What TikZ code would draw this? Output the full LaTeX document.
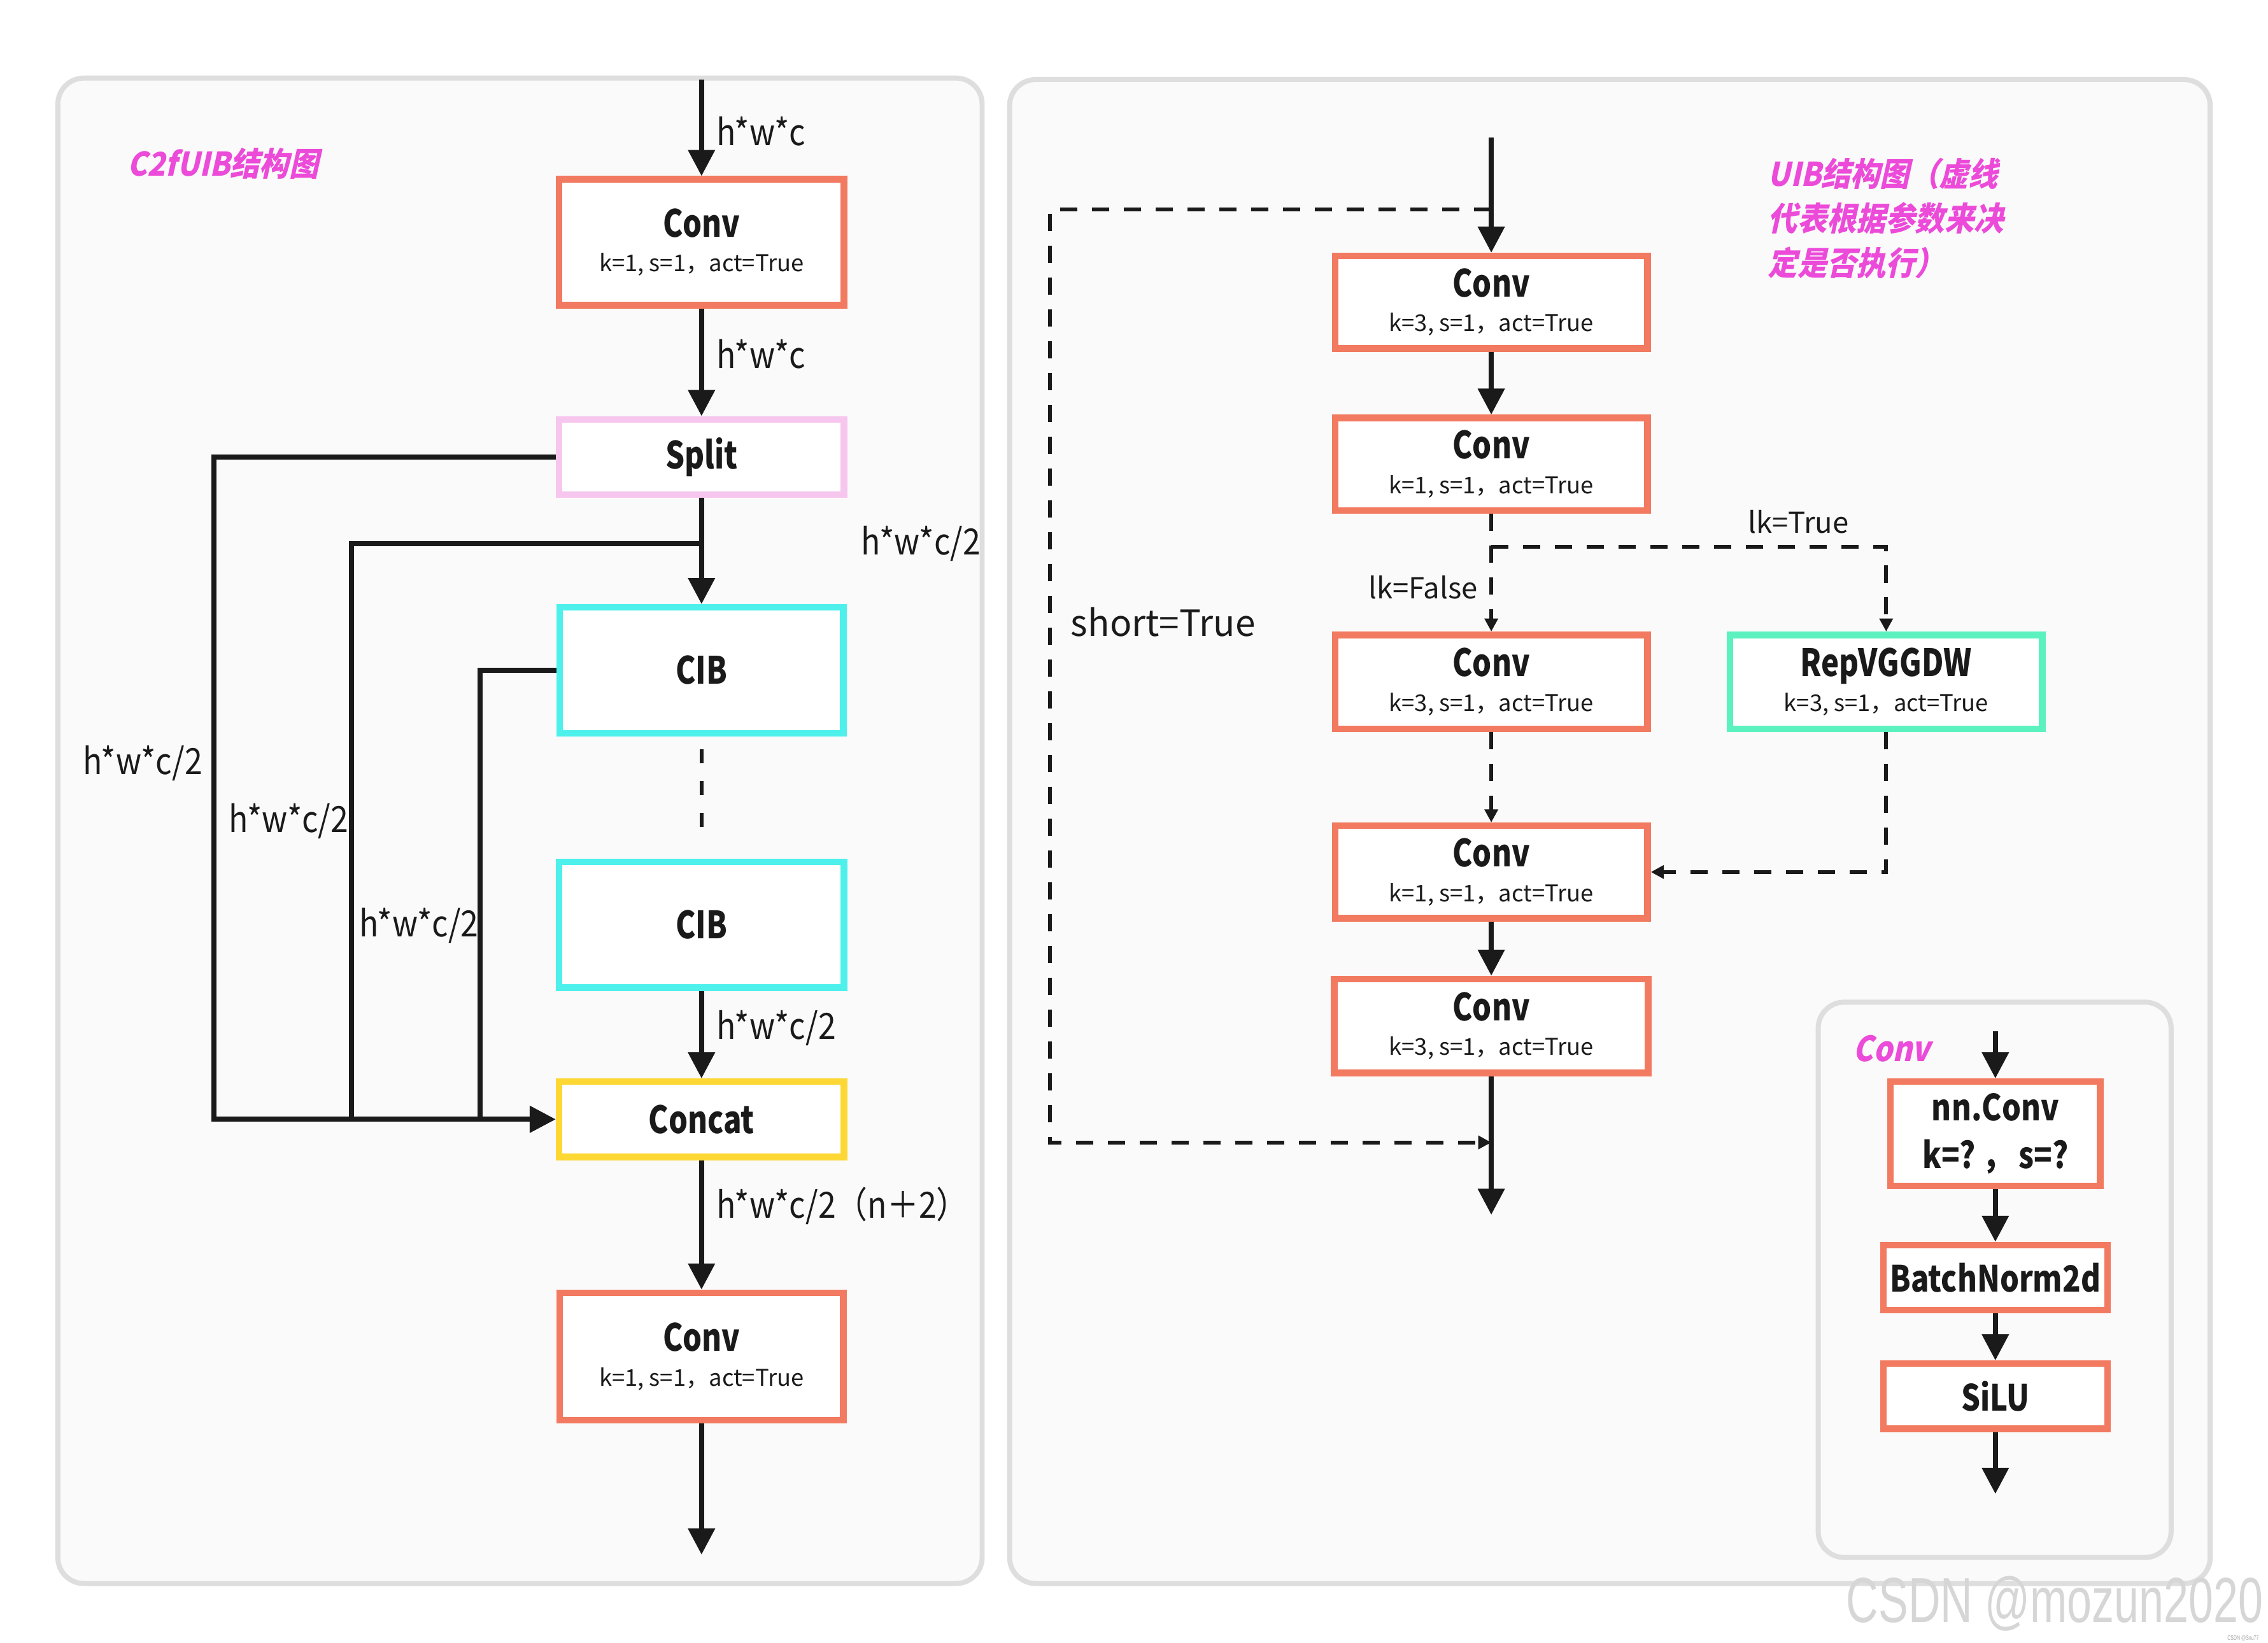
\documentclass[tikz,border=0pt]{standalone}
\usepackage{fontspec}
\setmainfont{Noto Sans CJK SC}
\newfontfamily\wmfont{Liberation Sans}[FakeStretch=0.7]
\newfontfamily\medfont{Noto Sans CJK SC}[FakeStretch=0.8]
\newfontfamily\medfontb{Noto Sans CJK SC}[FakeStretch=0.83]
\newfontfamily\magfont{Noto Sans CJK SC}[FakeSlant=0.22, FakeStretch=0.9]
\newfontfamily\magconv{Noto Sans CJK SC}[FakeSlant=0.22, FakeStretch=0.86]
\newfontfamily\lblfont{Noto Sans CJK SC}[FakeStretch=0.88]
\usetikzlibrary{arrows.meta}
\definecolor{orng}{HTML}{F27A60}
\definecolor{pnk}{HTML}{F7C6EE}
\definecolor{cyn}{HTML}{4EF0EC}
\definecolor{yel}{HTML}{FDD835}
\definecolor{grn}{HTML}{5CF2C0}
\definecolor{mag}{HTML}{EC4AD9}
\definecolor{linec}{HTML}{1A1A1A}
\definecolor{panelfill}{HTML}{FAFAFA}
\definecolor{paneldraw}{HTML}{DEDEDE}
\newcommand\ttl[1]{{\fontsize{13}{15}\selectfont\medfont\bfseries #1}}
\newcommand\prm[1]{{\fontsize{8}{10}\selectfont #1}}
\tikzset{
  panel/.style={draw=paneldraw, fill=panelfill, line width=1.75pt, rounded corners=9pt},
  box/.style={draw=#1, line width=2.3pt, fill=white, align=center, inner sep=0pt, text=linec},
  sz/.style n args={2}{minimum width=#1*0.5pt, minimum height=#2*0.5pt},
  line/.style={draw=linec, line width=1.7pt},
  arr/.style={line, -{Triangle[length=9pt,width=9pt]}},
  dline/.style={draw=linec, line width=1.3pt, dash pattern=on 6pt off 5pt},
  darr/.style={dline, -{Triangle[length=4.5pt,width=4.5pt]}},
  lbl/.style={anchor=west, inner sep=0pt, text=linec, font=\fontsize{12.5}{14}\selectfont\lblfont},
  plain/.style={anchor=west, inner sep=0pt, text=linec, font=\fontsize{12.5}{14}\selectfont},
  mtxt/.style={anchor=west, inner sep=0pt, text=mag, align=left, font=\fontsize{11.3}{15.5}\selectfont\magfont\bfseries},
  dtxt/.style={font=\fontsize{12.5}{16.5}\selectfont\medfontb\bfseries},
}
\begin{document}
\begin{tikzpicture}[x=0.5pt,y=-0.5pt]
\useasboundingbox (0,0) rectangle (1568,1136);
\fill[white] (0,0) rectangle (1568,1136);
% panels
\path[panel] (40,54) rectangle (679,1095);
\path[panel] (698,55) rectangle (1528,1095);
\path[panel] (1257,693) rectangle (1501,1077);

% ---------- left: C2fUIB ----------
\node[mtxt] (t1) at (88,113) {C2fUIB结构图};
\coordinate (in1) at (485,55);
\node[box=orng, sz={197}{87}] (c1) at (485,167.5) {\ttl{Conv}\\[0pt]\prm{k=1, s=1，act=True}};
\node[box=pnk, sz={197}{52}] (sp) at (485,316) {\ttl{Split}};
\node[box=cyn, sz={196}{87}] (cib1) at (485,463.5) {\ttl{CIB}};
\node[box=cyn, sz={197}{87}] (cib2) at (485,639.5) {\ttl{CIB}};
\node[box=yel, sz={197}{52}] (cat) at (485,774) {\ttl{Concat}};
\node[box=orng, sz={196}{88}] (c2) at (485,938) {\ttl{Conv}\\[0pt]\prm{k=1, s=1，act=True}};
\coordinate (out1) at (485,1075);
\coordinate (b1) at (485,376);
\coordinate (j1) at (332,774);

\draw[arr] (in1) -- (c1.north);
\draw[arr] (c1.south) -- (sp.north);
\draw[arr] (sp.south) -- (cib1.north);
\draw[dline, dash pattern=on 5pt off 6pt] (485,518) -- (485,582);
\draw[arr] (cib2.south) -- (cat.north);
\draw[arr] (cat.south) -- (c2.north);
\draw[arr] (c2.south) -- (out1);
\draw[arr] (sp.west) -- (148,316) -- (148,774) -- (cat.west);
\draw[line] (b1) -- (243,376) -- (243,774) -- (j1);
\draw[line] (cib1.west) -- (332,463.5) -- (j1);

\node[lbl] (l1) at (495,91) {h*w*c};
\node[lbl] (l2) at (495,245) {h*w*c};
\node[lbl] (l3) at (595,376) {h*w*c/2};
\node[lbl] (l4) at (57,528) {h*w*c/2};
\node[lbl] (l5) at (158,568) {h*w*c/2};
\node[lbl] (l6) at (248,640) {h*w*c/2};
\node[lbl] (l7) at (495,711) {h*w*c/2};
\node[lbl] (l8) at (495,834) {h*w*c/2（n＋2）};

% ---------- right: UIB ----------
\node[mtxt] (t2) at (1222,151) {UIB结构图（虚线\\代表根据参数来决\\定是否执行）};
\coordinate (in2) at (1031,95);
\node[box=orng, sz={216}{64}] (ca) at (1031,209) {\ttl{Conv}\\[0pt]\prm{k=3, s=1，act=True}};
\node[box=orng, sz={216}{64}] (cb) at (1031,321) {\ttl{Conv}\\[0pt]\prm{k=1, s=1，act=True}};
\node[box=orng, sz={216}{65}] (cc) at (1031,471.5) {\ttl{Conv}\\[0pt]\prm{k=3, s=1，act=True}};
\node[box=grn, sz={216}{65}] (rep) at (1304,471.5) {\ttl{RepVGGDW}\\[0pt]\prm{k=3, s=1，act=True}};
\node[box=orng, sz={216}{64}] (cd) at (1031,603) {\ttl{Conv}\\[0pt]\prm{k=1, s=1，act=True}};
\node[box=orng, sz={217}{65}] (ce) at (1031,709.5) {\ttl{Conv}\\[0pt]\prm{k=3, s=1，act=True}};
\coordinate (out2) at (1031,840);
\coordinate (s1) at (1031,145);
\coordinate (s2) at (1031,790);
\coordinate (b2) at (1031,378);

\draw[arr] (in2) -- (ca.north);
\draw[arr] (ca.south) -- (cb.north);
\draw[darr] (cb.south) -- (cc.north);
\draw[darr] (b2) -- (1304,378) -- (rep.north);
\draw[darr] (cc.south) -- (cd.north);
\draw[darr] (rep.south) -- (1304,603) -- (cd.east);
\draw[arr] (cd.south) -- (ce.north);
\draw[arr] (ce.south) -- (out2);
\draw[darr] (s1) -- (726,145) -- (726,790) -- (s2);

\node[plain] (sh) at (740,430) {short=True};
\node[plain, font=\fontsize{10}{12}\selectfont] (lkt) at (1208,361) {lk=True};
\node[plain, font=\fontsize{10}{12}\selectfont, anchor=east] (lkf) at (1022,406) {lk=False};

% ---------- Conv detail ----------
\node[mtxt, font=\fontsize{12}{14}\selectfont\magconv\bfseries] (t3) at (1281,725) {Conv};
\coordinate (in3) at (1379.5,713);
\node[box=orng, sz={145}{72}, dtxt] (nn) at (1379.5,784) {nn.Conv\\k=?\ ，\,s=?};
\node[box=orng, sz={155}{45}, dtxt] (bn) at (1379.5,883.5) {BatchNorm2d};
\node[box=orng, sz={155}{45}, dtxt] (si) at (1379.5,965.5) {SiLU};
\coordinate (out3) at (1379.5,1033);
\draw[arr] (in3) -- (nn.north);
\draw[arr] (nn.south) -- (bn.north);
\draw[arr] (bn.south) -- (si.north);
\draw[arr] (si.south) -- (out3);

% watermark
\node[anchor=east, inner sep=0pt, text=black!16, font=\fontsize{22}{24}\selectfont\wmfont] (wm) at (1565,1109) {CSDN @mozun2020};
\node[anchor=east, inner sep=0pt, text=black!35, font=\fontsize{2.2}{3}\selectfont\wmfont] (wm2) at (1562,1133) {CSDN @Snu77};
\end{tikzpicture}
\end{document}
